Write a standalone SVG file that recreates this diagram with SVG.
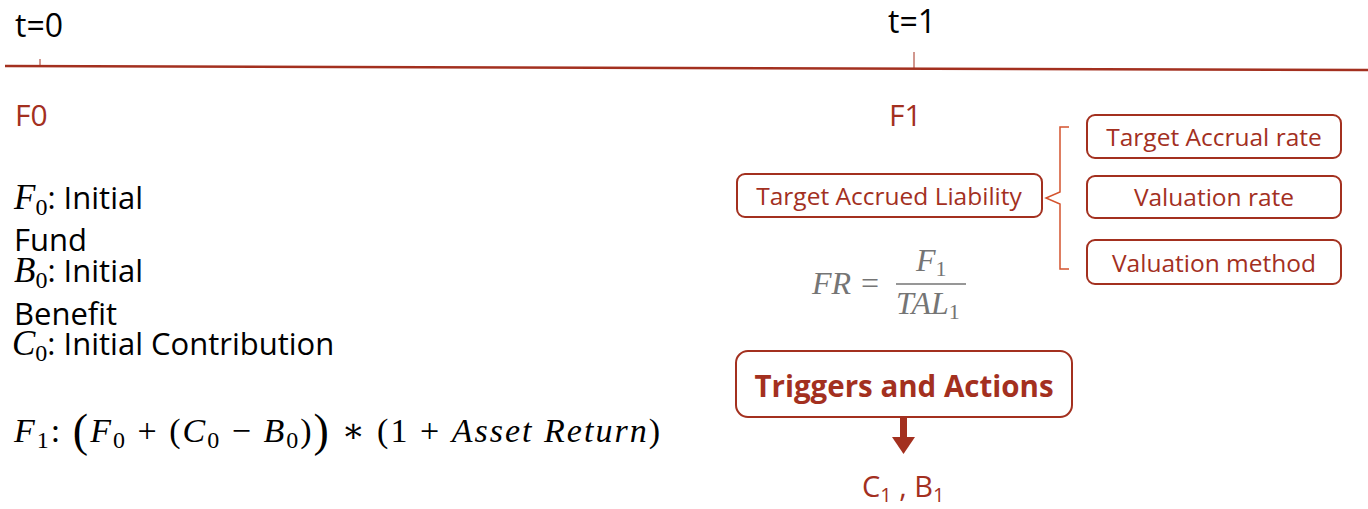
<svg xmlns="http://www.w3.org/2000/svg" width="1368" height="509" viewBox="0 0 1368 509">
<style>
.sans{font-family:"Open Sans","Liberation Sans",sans-serif}
.math{font-family:"Liberation Serif","DejaVu Serif",serif;font-style:italic}
.up{font-style:normal}
.red{fill:#a3301f}
.box{fill:#fff;stroke:#a3301f;stroke-width:2}
.lbl{font-family:"Open Sans","Liberation Sans",sans-serif;font-size:24.5px;fill:#a3301f;text-anchor:middle}
</style>
<rect width="1368" height="509" fill="#fff"/>
<g id="timeline">
<line x1="5" y1="66" x2="1368" y2="70" stroke="#a3301f" stroke-width="2.5"/>
<line x1="40" y1="59" x2="40" y2="67" stroke="#a3301f" stroke-width="1"/>
<line x1="914" y1="52" x2="914" y2="69" stroke="#a3301f" stroke-width="1"/>
<text x="15" y="37" class="sans" font-size="32">t=0</text>
<text x="888" y="33" class="sans" font-size="32">t=1</text>
<text x="15" y="126" class="sans red" font-size="30">F0</text>
<text x="889" y="126" class="sans red" font-size="30">F1</text>
</g>
<g id="definitions" font-size="31">
<text x="14" y="209"><tspan class="math" font-size="35">F</tspan><tspan class="math up" font-size="24" dy="6">0</tspan><tspan class="sans" dy="-6">: Initial</tspan></text>
<text x="14" y="251" class="sans">Fund</text>
<text x="14" y="282"><tspan class="math" font-size="35">B</tspan><tspan class="math up" font-size="24" dy="6">0</tspan><tspan class="sans" dy="-6">: Initial</tspan></text>
<text x="14" y="325" class="sans">Benefit</text>
<text x="12" y="355"><tspan class="math" font-size="35">C</tspan><tspan class="math up" font-size="24" dy="6">0</tspan><tspan class="sans" dy="-6">: Initial Contribution</tspan></text>
</g>
<g id="f1-formula" class="math" font-size="34">
<text x="14" y="442" textLength="646" lengthAdjust="spacing"><tspan>F</tspan><tspan class="up" font-size="24" dy="6">1</tspan><tspan class="up" dy="-6">: </tspan><tspan class="up" font-size="46" dy="4">(</tspan><tspan dy="-4">F</tspan><tspan class="up" font-size="24" dy="6">0</tspan><tspan class="up" dy="-6"> + (</tspan><tspan>C</tspan><tspan class="up" font-size="24" dy="6">0</tspan><tspan class="up" dy="-6"> − </tspan><tspan>B</tspan><tspan class="up" font-size="24" dy="6">0</tspan><tspan class="up" dy="-6">)</tspan><tspan class="up" font-size="46" dy="4">)</tspan><tspan class="up" dy="-4"> ∗ (1 + </tspan><tspan>Asset Return</tspan><tspan class="up">)</tspan></text>
</g>
<g id="tal">
<rect x="737" y="174" width="305" height="43" rx="8" class="box"/>
<text x="889" y="205" class="lbl">Target Accrued Liability</text>
</g>
<g id="connectors">
<path d="M1069,127 H1060 V192 L1046,198 L1060,204 V269 H1069" fill="none" stroke="#d4532e" stroke-width="1.5"/>
<rect x="900" y="417" width="7" height="22" fill="#a3301f"/>
<polygon points="892,437 915,437 903.5,454" fill="#a3301f"/>
</g>
<g id="target-accrual-rate">
<rect x="1087" y="115" width="254" height="43" rx="8" class="box"/>
<text x="1214" y="146" class="lbl">Target Accrual rate</text>
</g>
<g id="valuation-rate">
<rect x="1087" y="176" width="254" height="42" rx="8" class="box"/>
<text x="1214" y="206" class="lbl">Valuation rate</text>
</g>
<g id="valuation-method">
<rect x="1087" y="240" width="254" height="44" rx="8" class="box"/>
<text x="1214" y="272" class="lbl">Valuation method</text>
</g>
<g id="fr-formula" class="math" fill="#757575" font-size="32">
<text x="812" y="294">FR</text>
<text x="861" y="294" class="up">=</text>
<text x="916" y="271">F<tspan class="up" font-size="22" dy="5">1</tspan></text>
<line x1="896" y1="284" x2="966" y2="284" stroke="#757575" stroke-width="1.5"/>
<text x="896" y="314">TAL<tspan class="up" font-size="22" dy="5">1</tspan></text>
</g>
<g id="triggers">
<rect x="736" y="351" width="336" height="66" rx="12" class="box"/>
<text x="904" y="397" class="sans red" font-size="29.5" font-weight="bold" text-anchor="middle">Triggers and Actions</text>
</g>
<g id="outputs">
<text x="862" y="497" class="sans red" font-size="29">C<tspan font-size="20" dy="5">1</tspan><tspan dy="-5"> , B</tspan><tspan font-size="20" dy="5">1</tspan></text>
</g>
</svg>
